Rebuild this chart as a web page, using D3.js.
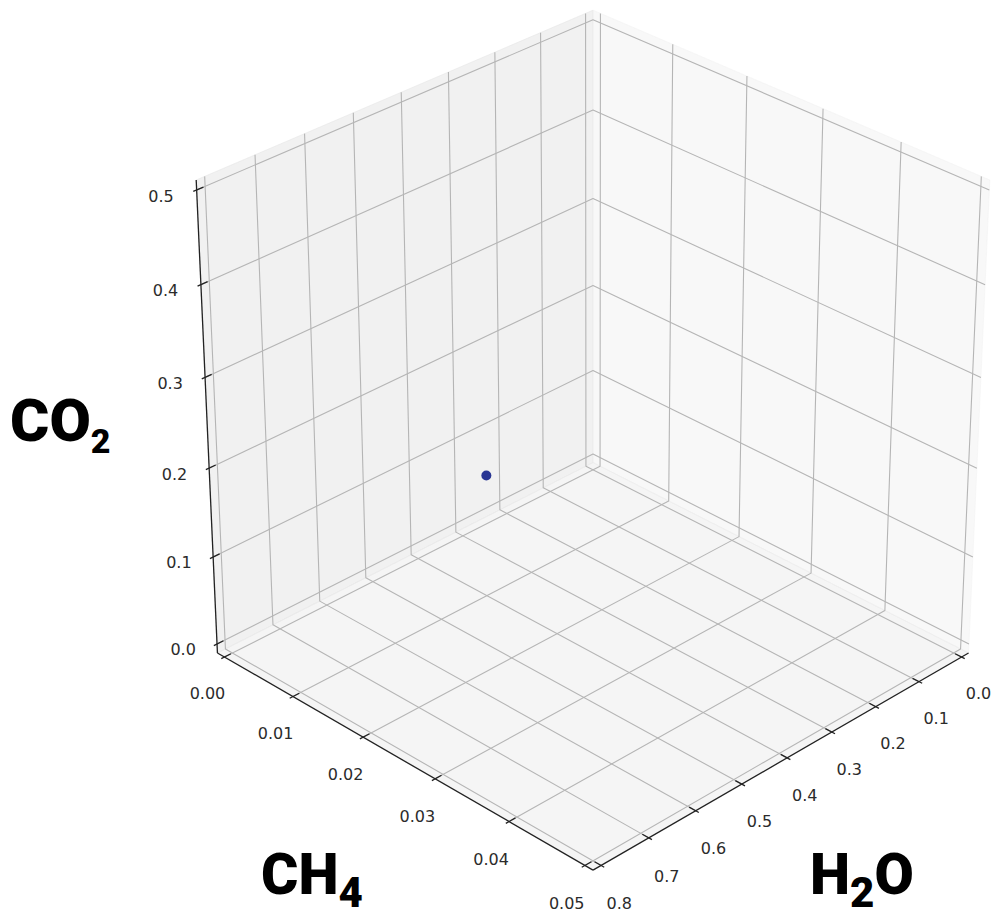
<!DOCTYPE html>
<html>
<head>
<meta charset="utf-8">
<script src="https://cdn.jsdelivr.net/npm/d3@7"></script>
<style>
  body { margin: 0; background: #fff; }
  svg { display: block; }
  .tick-label { font-family: "DejaVu Sans", sans-serif; font-size: 16px; fill: #2b2b2b; }
  .big-label { font-family: Roboto, "Liberation Sans", sans-serif; font-weight: 900; fill: #000; }
</style>
</head>
<body>
<div id="chart"></div>
<script>
// axis ranges and ticks
const h2oDomain = [0, 0.8];
const ch4Domain = [0, 0.05];
const co2Domain = [0, 0.5];
const h2oTicks = [0, 0.1, 0.2, 0.3, 0.4, 0.5, 0.6, 0.7, 0.8];
const ch4Ticks = [0, 0.01, 0.02, 0.03, 0.04, 0.05];
const co2Ticks = [0, 0.1, 0.2, 0.3, 0.4, 0.5];

// the single sample
const h2oValues = [0.55];
const ch4Values = [0.02];
const co2Values = [0.21];

const width = 1000, height = 913;

const svg = d3.select('#chart').append('svg')
  .attr('width', width)
  .attr('height', height);

// view, same as a matplotlib 3d axes with elev 30, azim 45, equal box aspect
const elev = 30 * Math.PI / 180, azim = 45 * Math.PI / 180, dist = 10;
const SIZE = 1.8294640721620434 / Math.sqrt(3);
const PAD = SIZE / 48, DELTA = SIZE / 12;
const lo = -PAD, hi = SIZE + PAD;
const C = SIZE / 2;
const scale2d = 4960, cx = 593, cy = 423;

const n = [Math.cos(elev) * Math.cos(azim), Math.cos(elev) * Math.sin(azim), Math.sin(elev)];
const u = [-Math.sin(azim), Math.cos(azim), 0];
const v = [n[1] * u[2] - n[2] * u[1], n[2] * u[0] - n[0] * u[2], n[0] * u[1] - n[1] * u[0]];
const dot = (a, b) => a[0] * b[0] + a[1] * b[1] + a[2] * b[2];

function project(p) {
  const d = [p[0] - C, p[1] - C, p[2] - C];
  const w = dist - dot(n, d);
  return [cx + scale2d * dot(u, d) / w, cy - scale2d * dot(v, d) / w];
}

const xScale = d3.scaleLinear().domain(h2oDomain).range([0, SIZE]);
const yScale = d3.scaleLinear().domain(ch4Domain).range([0, SIZE]);
const zScale = d3.scaleLinear().domain(co2Domain).range([0, SIZE]);

const line = d3.line();
const path3d = pts => line(pts.map(project));

// panes
const panes = [
  { pts: [[lo, lo, lo], [hi, lo, lo], [hi, lo, hi], [lo, lo, hi]], fill: 'rgb(228,228,228)' },  // CH4 = 0 wall
  { pts: [[lo, lo, lo], [lo, hi, lo], [lo, hi, hi], [lo, lo, hi]], fill: 'rgb(242,242,242)' },  // H2O = 0 wall
  { pts: [[lo, lo, lo], [hi, lo, lo], [hi, hi, lo], [lo, hi, lo]], fill: 'rgb(235,235,235)' }   // floor
];
svg.append('g').selectAll('path').data(panes)
  .enter().append('path')
  .attr('d', d => path3d(d.pts) + 'Z')
  .attr('fill', d => d.fill)
  .attr('fill-opacity', 0.5)
  .attr('stroke', d => d.fill)
  .attr('stroke-opacity', 0.5)
  .attr('stroke-width', 1);

// grid lines
const grid = svg.append('g')
  .attr('fill', 'none')
  .attr('stroke', '#b5b5b5')
  .attr('stroke-width', 1.1)
  .attr('stroke-linejoin', 'round');

grid.selectAll('path.gx').data(h2oTicks).enter().append('path')
  .attr('d', t => path3d([[xScale(t), hi, lo], [xScale(t), lo, lo], [xScale(t), lo, hi]]));
grid.selectAll('path.gy').data(ch4Ticks).enter().append('path')
  .attr('d', t => path3d([[lo, yScale(t), hi], [lo, yScale(t), lo], [hi, yScale(t), lo]]));
grid.selectAll('path.gz').data(co2Ticks).enter().append('path')
  .attr('d', t => path3d([[hi, lo, zScale(t)], [lo, lo, zScale(t)], [lo, hi, zScale(t)]]));

// axes
const Lh = 0.05, Lz = 0.066;
const axes = [
  { line: [[lo, hi, lo], [hi, hi, lo]], ticks: h2oTicks, fmt: d3.format('.1f'),
    at: t => [xScale(t), hi, lo], off: (p, k) => [p[0], p[1] + k, p[2]],
    label: t => [xScale(t), hi + Lh, lo - Lz] },
  { line: [[hi, lo, lo], [hi, hi, lo]], ticks: ch4Ticks, fmt: d3.format('.2f'),
    at: t => [hi, yScale(t), lo], off: (p, k) => [p[0] + k, p[1], p[2]],
    label: t => [hi + Lh, yScale(t), lo - Lz] },
  { line: [[hi, lo, lo], [hi, lo, hi]], ticks: co2Ticks, fmt: d3.format('.1f'),
    at: t => [hi, lo, zScale(t)], off: (p, k) => [p[0] + k, p[1], p[2]],
    label: t => [hi + Lh, lo - Lh, zScale(t) - 0.014] }
];

const axisG = svg.append('g');
axes.forEach(a => {
  axisG.append('path')
    .attr('d', path3d(a.line))
    .attr('stroke', '#222')
    .attr('stroke-width', 1.3)
    .attr('fill', 'none');
  axisG.append('g').selectAll('path').data(a.ticks).enter().append('path')
    .attr('d', t => path3d([a.off(a.at(t), 0.1 * DELTA), a.off(a.at(t), -0.2 * DELTA)]))
    .attr('stroke', '#222')
    .attr('stroke-width', 1.3)
    .attr('fill', 'none');
  axisG.append('g').selectAll('text').data(a.ticks).enter().append('text')
    .attr('class', 'tick-label')
    .attr('x', t => project(a.label(t))[0])
    .attr('y', t => project(a.label(t))[1])
    .attr('text-anchor', 'middle')
    .attr('dominant-baseline', 'central')
    .text(t => a.fmt(t));
});

// scatter point
const samples = h2oValues.map((h, i) => [xScale(h), yScale(ch4Values[i]), zScale(co2Values[i])]);
svg.append('g').selectAll('circle').data(samples)
  .enter().append('circle')
  .attr('cx', d => project(d)[0])
  .attr('cy', d => project(d)[1])
  .attr('r', 5)
  .attr('fill', '#283593');

// big axis titles
function title(x, y, main, sub, tail, size, subSize, shift) {
  const t = svg.append('text')
    .attr('class', 'big-label')
    .attr('x', x)
    .attr('y', y)
    .style('font-size', size + 'px');
  t.append('tspan').text(main);
  t.append('tspan').attr('dy', shift).style('font-size', subSize + 'px').text(sub);
  if (tail) t.append('tspan').attr('dy', -shift).text(tail);
}
title(10, 441, 'CO', '2', '', 60, 34, 12);
title(261, 894, 'CH', '4', '', 57, 42, 13);
title(810, 894, 'H', '2', 'O', 57, 42, 13);
</script>
</body>
</html>
